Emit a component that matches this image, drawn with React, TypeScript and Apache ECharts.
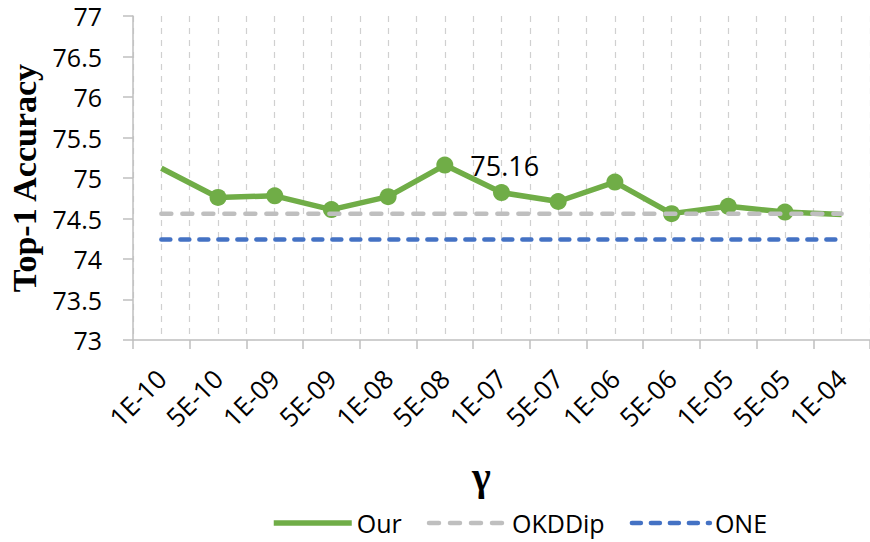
import { useEffect, useRef } from 'react';
import * as echarts from 'echarts';

const categories = ['1E-10', '5E-10', '1E-09', '5E-09', '1E-08', '5E-08', '1E-07', '5E-07', '1E-06', '5E-06', '1E-05', '5E-05', '1E-04'];
const ourValues = [75.12, 74.76, 74.78, 74.61, 74.77, 75.16, 74.82, 74.71, 74.95, 74.56, 74.65, 74.58, 74.55];
const okddipValues = [74.56, 74.56, 74.56, 74.56, 74.56, 74.56, 74.56, 74.56, 74.56, 74.56, 74.56, 74.56, 74.56];
const oneValues = [74.24, 74.24, 74.24, 74.24, 74.24, 74.24, 74.24, 74.24, 74.24, 74.24, 74.24, 74.24, 74.24];
const noMarkerIdx = [0, 12];
const labelIdx = [5];

const SANS = '"Open Sans", "DejaVu Sans", sans-serif';
const SERIF = '"Liberation Serif", "DejaVu Serif", serif';

export default function App() {
  const ref = useRef<HTMLDivElement>(null);
  useEffect(() => {
    if (!ref.current) return;
    const chart = echarts.init(ref.current, undefined, { renderer: 'svg' });
    const ourData = ourValues.map((v, i) => {
      const item: any = { value: v };
      if (noMarkerIdx.includes(i)) item.symbol = 'none';
      if (labelIdx.includes(i)) {
        item.label = {
          show: true,
          position: 'right',
          distance: 17,
          formatter: (p: any) => String(p.value.toFixed(2)),
          fontSize: 27,
          fontFamily: SANS,
          color: '#000',
        };
      }
      return item;
    });
    chart.setOption({
      animation: false,
      backgroundColor: '#fff',
      grid: { left: 133, right: 0, top: 16, bottom: 202, containLabel: false, outerBoundsMode: 'none' },
      xAxis: [
        {
          type: 'category',
          data: categories,
          boundaryGap: true,
          axisLine: { show: true, lineStyle: { color: '#bfbfbf', width: 1.5 } },
          axisTick: { show: true, length: 9, lineStyle: { color: '#bfbfbf', width: 1.5 } },
          axisLabel: { interval: 0, rotate: 45, fontSize: 26, fontFamily: SANS, color: '#000', margin: 34 },
          splitLine: { show: false },
        },
        {
          type: 'value',
          min: 0,
          max: 26,
          interval: 1,
          position: 'bottom',
          axisLine: { show: false },
          axisTick: { show: false },
          axisLabel: { show: false },
          splitLine: { show: true, lineStyle: { color: '#d0d0d0', width: 1.2, type: [6, 6] } },
        },
      ],
      yAxis: {
        type: 'value',
        min: 73,
        max: 77,
        interval: 0.5,
        name: 'Top-1 Accuracy',
        nameLocation: 'middle',
        nameRotate: 90,
        nameGap: 90,
        nameTextStyle: { fontSize: 34, fontWeight: 'bold', fontFamily: SERIF, color: '#000' },
        axisLine: { show: true, lineStyle: { color: '#bfbfbf', width: 1.5 } },
        axisTick: { show: true, length: 10, lineStyle: { color: '#bfbfbf', width: 1.5 } },
        axisLabel: { fontSize: 25, fontFamily: SANS, color: '#000', margin: 31 },
        splitLine: { show: false },
      },
      legend: {
        left: 266,
        top: 504,
        itemWidth: 78,
        itemHeight: 14,
        itemGap: 25,
        itemStyle: { opacity: 0 },
        textStyle: { fontSize: 25, fontFamily: SANS, color: '#000', lineHeight: 28 },
        data: [
          { name: 'Our', lineStyle: { width: 5.5 } },
          { name: 'OKDDip', lineStyle: { width: 4.5 } },
          { name: 'ONE', lineStyle: { width: 4.5 } },
        ],
      },
      graphic: [
        {
          type: 'text',
          left: 472,
          top: 456,
          style: { text: 'γ', fontSize: 40, fontWeight: 'bold', fontFamily: SERIF, fill: '#000' },
        },
      ],
      series: [
        {
          name: 'Our',
          type: 'line',
          xAxisIndex: 0,
          data: ourData,
          symbol: 'circle',
          symbolSize: 17,
          itemStyle: { color: '#70ad47' },
          lineStyle: { color: '#70ad47', width: 5.5 },
          z: 2,
        },
        {
          name: 'OKDDip',
          type: 'line',
          xAxisIndex: 0,
          data: okddipValues,
          symbol: 'none',
          itemStyle: { color: '#bfbfbf' },
          lineStyle: { color: '#bfbfbf', width: 4.5, type: [10, 11], cap: 'round' },
          z: 3,
        },
        {
          name: 'ONE',
          type: 'line',
          xAxisIndex: 0,
          data: oneValues,
          symbol: 'none',
          itemStyle: { color: '#4472c4' },
          lineStyle: { color: '#4472c4', width: 4.5, type: [9, 10], cap: 'round' },
          z: 3,
        },
      ],
    });
    return () => chart.dispose();
  }, []);
  return <div ref={ref} style={{ position: 'fixed', left: 0, top: 0, width: 870, height: 542 }} />;
}
